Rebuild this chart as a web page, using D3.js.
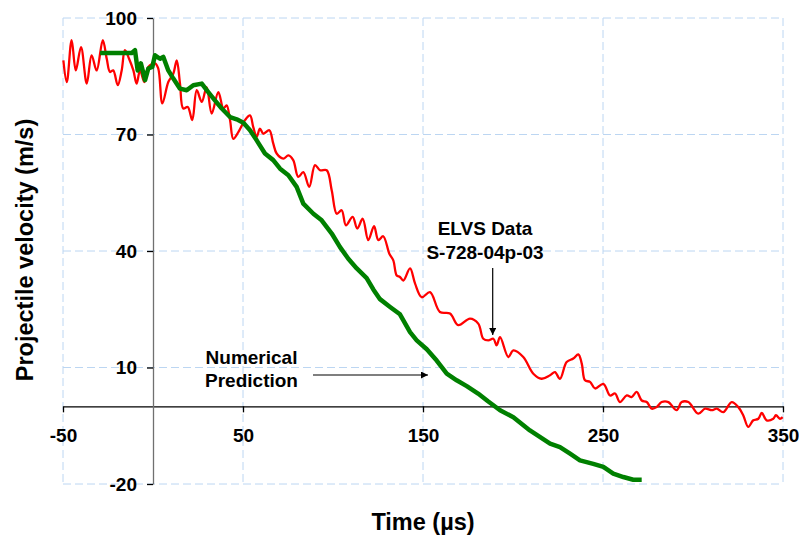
<!DOCTYPE html>
<html>
<head>
<meta charset="utf-8">
<script src="https://cdn.jsdelivr.net/npm/d3@7"></script>
<style>
  body { margin: 0; background: #fff; }
  svg text { font-family: Arial, "Liberation Sans", sans-serif; font-weight: bold; fill: #000; }
  .grid line { stroke: #bcd6f2; stroke-width: 1; stroke-dasharray: 8,4; }
</style>
</head>
<body>
<div id="chart"></div>
<script>
// axis ticks
var xTicks = [-50, 50, 150, 250, 350];
var yTicks = [-20, 10, 40, 70, 100];

// ELVS Data S-728-04p-03 (time us, velocity m/s)
var elvsT = [-49.8, -47.9, -45.2, -42.9, -40.0, -36.8, -34.1, -31.3, -27.9, -25.7, -23.9, -22.1, -19.6, -17.4, -15.6, -13.3, -10.9, -9.1, -7.2, -4.8, -2.6,
  1.1, 2.9, 5.2, 8.5, 11.3, 13.2, 15.0, 16.8, 19.3, 21.8, 24.3, 27.1, 29.8, 32.6, 36.3, 39.1, 40.9, 42.8, 44.6, 47.4,
  51.1, 53.9, 55.7, 57.6, 59.4, 61.3, 64.6, 66.8, 68.7, 72.4, 75.2, 77.9, 80.7, 83.5, 86.8, 90.0, 92.8, 96.5, 99.3,
  102.1, 104.8, 107.2, 110.9, 113.5, 116.5, 119.6, 122.8, 125.2, 127.9, 131.3, 133.5, 135.4, 137.2, 139.1, 142.8, 145.6, 149.3,
  153.9, 159.4, 165.0, 169.6, 176.1, 180.7, 183.5, 186.3, 189.1, 190.9, 192.8, 197.4, 200.2, 205.7, 211.3, 215.9,
  220.6, 223.3, 226.1, 229.8, 233.5, 236.3, 238.2, 240.0, 242.8, 245.6, 250.2, 253.9, 256.7, 259.4, 263.2, 265.9, 268.7,
  271.5, 274.3, 277.1, 279.8, 282.6, 286.3, 290.9, 293.7, 297.4, 302.9, 306.7, 310.4, 313.2, 316.8, 321.5, 325.2,
  327.9, 330.7, 333.5, 336.3, 338.2, 340.9, 344.6, 346.1, 348.3, 349.8];
var elvsV = [89.1, 83.5, 94.3, 86.5, 92.5, 83.1, 90.4, 86.5, 94.3, 89.5, 86.1, 86.5, 82.7, 86.5, 91.7, 89.5, 86.5, 83.1, 86.5, 83.5, 87.4,
  88.3, 87.0, 78.0, 83.5, 85.7, 89.1, 83.1, 76.7, 77.1, 73.7, 81.4, 78.4, 82.2, 75.4, 80.9, 76.7, 77.5, 73.7, 68.9, 70.6,
  73.7, 74.9, 71.9, 69.4, 71.5, 70.2, 71.1, 67.7, 65.1, 63.8, 64.6, 63.4, 59.1, 60.3, 56.5, 62.1, 60.8, 60.8, 55.6,
  49.6, 50.5, 46.6, 48.8, 45.8, 48.3, 42.8, 46.4, 42.8, 43.8, 39.3, 37.6, 33.7, 33.3, 32.4, 35.5, 31.6, 28.1,
  29.4, 24.3, 23.9, 20.9, 22.6, 21.3, 17.4, 17.0, 17.4, 15.7, 17.8, 12.7, 14.4, 12.7, 8.4, 7.1,
  8.0, 8.8, 7.1, 11.4, 12.3, 13.4, 11.0, 6.7, 6.3, 4.6, 5.8, 2.8, 3.3, 1.1, 2.8, 2.4, 3.7,
  1.5, 1.1, -0.6, -0.2, 1.1, 1.1, -1.0, 1.1, 1.1, -1.9, -0.6, -1.0, -0.6, -1.5, 1.1, -0.2,
  -2.3, -5.3, -3.6, -3.2, -1.7, -3.6, -3.2, -2.3, -3.2, -2.8];

// Numerical Prediction
var simT = [-29.4, -11.8, -10.0, -8.5, -6.7, -4.4, -2.6, -0.4, 1.1, 3.9, 5.7, 8.5, 11.3, 15.0, 18.7, 22.4, 27.1, 30.7, 34.4, 38.2,
  42.8, 46.5, 50.2, 53.9, 57.6, 62.2, 66.8, 70.6, 75.2, 79.8, 83.5, 89.1, 93.7, 99.3, 103.9, 108.5, 113.2, 118.7, 122.4, 126.1,
  131.7, 137.2, 142.8, 146.5, 152.1, 157.6, 163.2, 168.7, 174.3, 180.6, 186.1, 192.8, 200.2, 209.4, 220.6, 226.1, 231.7,
  237.2, 244.6, 250.2, 255.7, 261.3, 266.8, 271.5];
var simV = [91.0, 91.0, 91.7, 86.5, 88.3, 84.0, 87.0, 87.4, 90.4, 89.5, 90.0, 86.5, 84.4, 81.8, 81.4, 82.7, 83.1, 80.9, 78.8, 76.7,
  74.5, 73.9, 73.0, 71.1, 68.5, 65.1, 63.4, 61.2, 59.5, 56.5, 52.2, 49.6, 47.9, 44.5, 41.0, 38.0, 35.5, 33.0, 30.1, 27.6,
  25.6, 23.7, 19.1, 17.0, 14.7, 11.8, 8.4, 6.7, 5.2, 3.3, 1.3, -1.0, -2.8, -6.2, -9.6, -10.5, -12.2,
  -13.9, -14.8, -15.6, -17.3, -18.2, -18.9, -18.9];

var W = 799, H = 535;
var x = d3.scaleLinear().domain([-50, 350]).range([63, 783]);
var y = d3.scaleLinear().domain([-20, 100]).range([484, 18]);

var svg = d3.select("#chart").append("svg")
  .attr("width", W)
  .attr("height", H);

// grid
var grid = svg.append("g").attr("class", "grid");
grid.selectAll(".h").data(yTicks).enter().append("line")
  .attr("x1", x(-50)).attr("x2", x(350))
  .attr("y1", d => y(d)).attr("y2", d => y(d));
grid.selectAll(".v").data(xTicks).enter().append("line")
  .attr("x1", d => x(d)).attr("x2", d => x(d))
  .attr("y1", y(100)).attr("y2", y(-20));

// axes (plain hyphen for negatives, like the original)
var fmt = d => String(d);

var xAxis = svg.append("g")
  .attr("transform", "translate(0," + y(0) + ")")
  .call(d3.axisBottom(x).tickValues(xTicks).tickFormat(fmt).tickSize(6).tickSizeOuter(0).tickPadding(16));
xAxis.select(".domain").attr("stroke", "#000").attr("stroke-width", 1.3);
xAxis.selectAll(".tick line").attr("stroke", "#000").attr("stroke-width", 1.3);
xAxis.selectAll("text").style("font-size", "19px").attr("dy", "0.71em");

var yAxis = svg.append("g")
  .attr("transform", "translate(" + x(0) + ",0)")
  .call(d3.axisLeft(y).tickValues(yTicks).tickFormat(fmt).tickSize(6).tickSizeOuter(0).tickPadding(10));
yAxis.select(".domain").attr("stroke", "#707070").attr("stroke-width", 1.3);
yAxis.selectAll(".tick line").attr("stroke", "#000").attr("stroke-width", 1.3);
yAxis.selectAll("text").style("font-size", "19px");

// lines
var smooth = d3.line().x(d => x(d[0])).y(d => y(d[1])).curve(d3.curveCatmullRom.alpha(0.5));
var straight = d3.line().x(d => x(d[0])).y(d => y(d[1]));

svg.append("path")
  .datum(d3.zip(elvsT, elvsV))
  .attr("fill", "none")
  .attr("stroke", "#ff0000")
  .attr("stroke-width", 2.3)
  .attr("stroke-linejoin", "round")
  .attr("d", smooth);

svg.append("path")
  .datum(d3.zip(simT, simV))
  .attr("fill", "none")
  .attr("stroke", "#008000")
  .attr("stroke-width", 4.5)
  .attr("stroke-linejoin", "round")
  .attr("d", straight);

// arrows
var defs = svg.append("defs");
defs.append("marker")
  .attr("id", "head")
  .attr("viewBox", "0 0 10 10")
  .attr("refX", 10).attr("refY", 5)
  .attr("markerWidth", 7).attr("markerHeight", 7)
  .attr("markerUnits", "userSpaceOnUse")
  .attr("orient", "auto")
  .append("path")
  .attr("d", "M0,0L10,5L0,10z")
  .attr("fill", "#000");

svg.append("line")
  .attr("x1", 492.7).attr("y1", 268)
  .attr("x2", 492.7).attr("y2", 335)
  .attr("stroke", "#000").attr("stroke-width", 1.2)
  .attr("marker-end", "url(#head)");

svg.append("line")
  .attr("x1", 313).attr("y1", 375)
  .attr("x2", 428).attr("y2", 375)
  .attr("stroke", "#000").attr("stroke-width", 1.2)
  .attr("marker-end", "url(#head)");

// annotations
svg.append("text").attr("x", 485).attr("y", 235).attr("text-anchor", "middle")
  .style("font-size", "19px").text("ELVS Data");
svg.append("text").attr("x", 485).attr("y", 258.5).attr("text-anchor", "middle")
  .style("font-size", "19px").text("S-728-04p-03");
svg.append("text").attr("x", 251.5).attr("y", 363.5).attr("text-anchor", "middle")
  .style("font-size", "19px").text("Numerical");
svg.append("text").attr("x", 251.5).attr("y", 387).attr("text-anchor", "middle")
  .style("font-size", "19px").text("Prediction");

// axis titles
svg.append("text").attr("x", 423).attr("y", 530).attr("text-anchor", "middle")
  .style("font-size", "23.5px").text("Time (\u00b5s)");
svg.append("text")
  .attr("transform", "translate(33,250) rotate(-90)")
  .attr("text-anchor", "middle")
  .style("font-size", "23.5px")
  .text("Projectile velocity (m/s)");
</script>
</body>
</html>
